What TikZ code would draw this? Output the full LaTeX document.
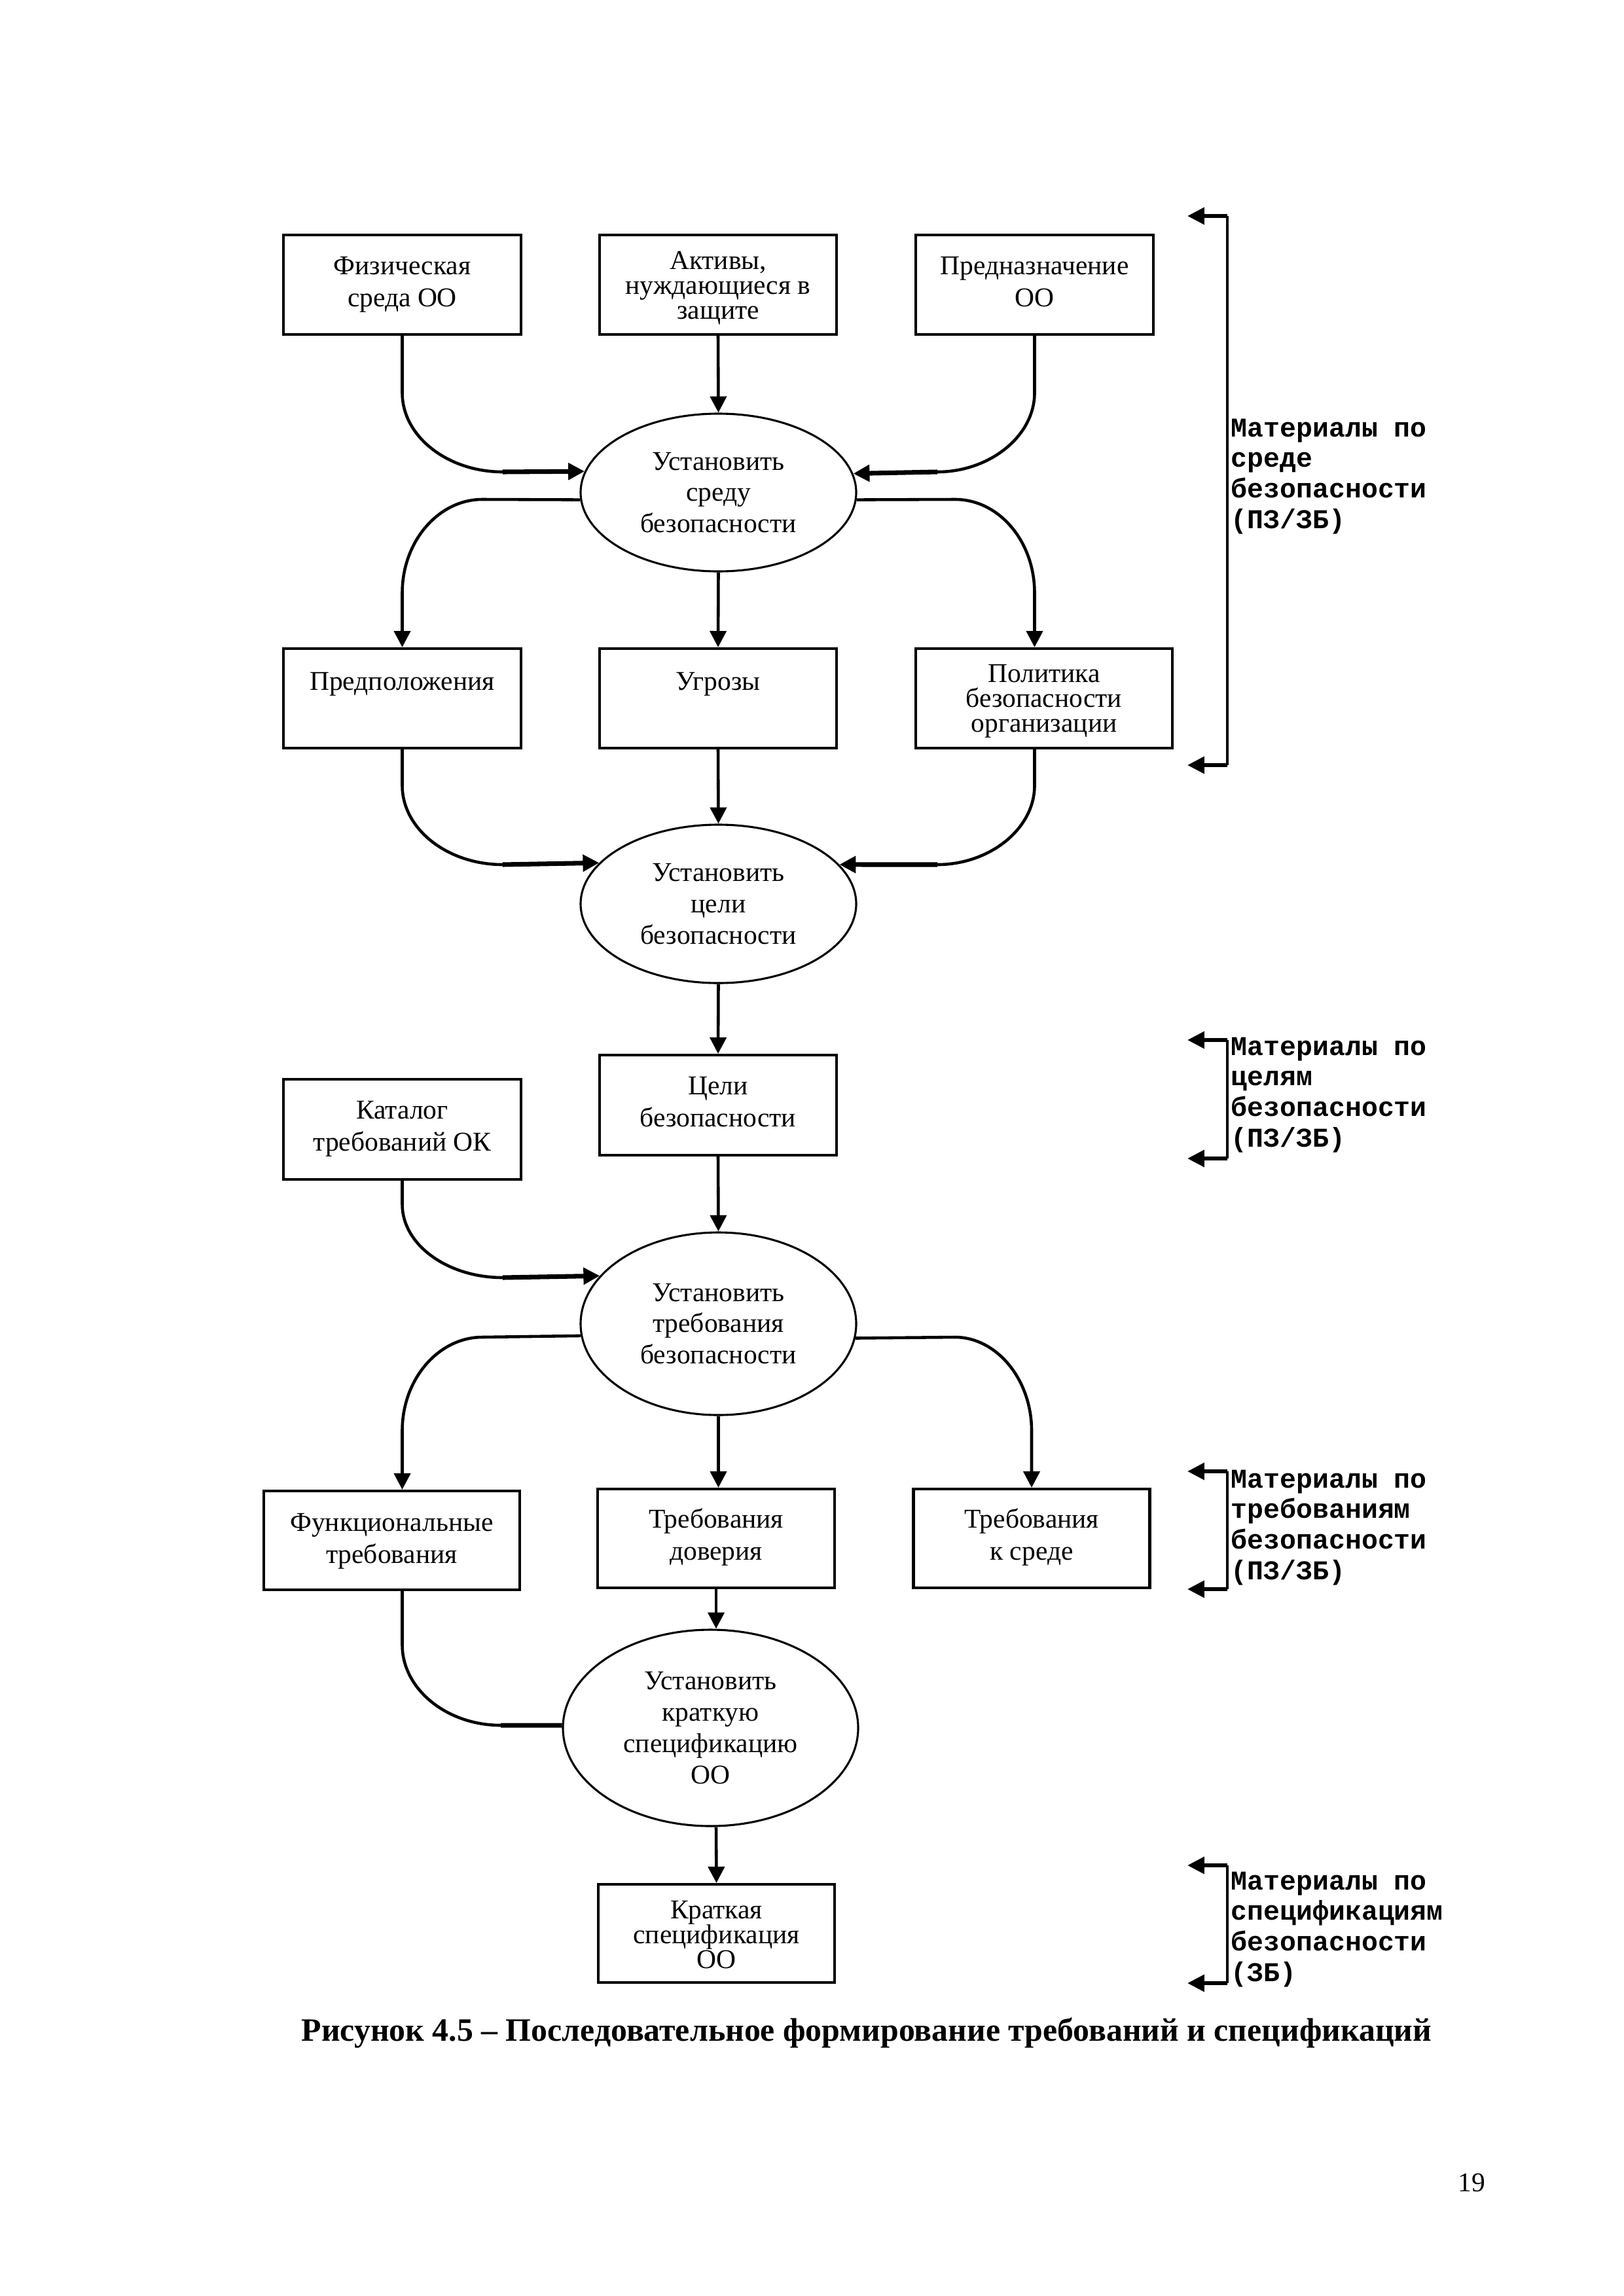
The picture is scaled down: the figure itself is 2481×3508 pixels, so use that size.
\documentclass[tikz,border=0pt]{standalone}
\usepackage{fontspec}
\setmainfont{Liberation Serif}
\newfontfamily\monof{Liberation Mono}
\usetikzlibrary{arrows.meta,shapes.geometric}
\newcommand\pxl{0.0846667mm}
\newcommand\firstl{\rule{0pt}{8pt}}
\begin{document}
\begin{tikzpicture}[x=0.0846667mm,y=-0.0846667mm,
  box/.style={draw, line width=1pt, inner sep=0pt, rectangle},
  bt/.style={anchor=north, inner sep=0pt, align=center, font={\fontsize{10}{11.8}\selectfont}},
  btt/.style={anchor=north, inner sep=0pt, align=center, font={\fontsize{10}{9.2}\selectfont\lineskiplimit=-20pt}},
  ell/.style={draw, ellipse, line width=0.75pt, inner sep=0pt, align=center, font={\fontsize{10}{11.5}\selectfont}},
  con/.style={line width=1.1pt},
  arr/.style={line width=1.1pt, -{Triangle[length=6pt,width=6pt]}},
  thk/.style={line width=1.7pt},
  thka/.style={line width=1.7pt, -{Triangle[length=6pt,width=6pt]}},
  brv/.style={line width=1pt},
  brh/.style={line width=1.45pt, -{Triangle[length=6.2pt,width=6pt]}},
  mat/.style={anchor=north west, inner sep=0pt, align=left, font={\monof\bfseries\fontsize{10}{11.3}\selectfont}}
]
\fill[white] (0,0) rectangle (2481,3508);
\useasboundingbox (0,0) rectangle (2481,3508);

% ---------- row 1 ----------
\node[box, minimum width=363*\pxl, minimum height=152*\pxl] (b1) at (614.5,435) {};
\node[box, minimum width=362*\pxl, minimum height=152*\pxl] (b2) at (1097,435) {};
\node[box, minimum width=363*\pxl, minimum height=152*\pxl] (b3) at (1580.5,435) {};
\node[bt] (t1) at (614.5,385) {\firstl Физическая\\среда ОО};
\node[btt] (t2) at (1097,377) {\firstl Активы,\\нуждающиеся в\\защите};
\node[bt] (t3) at (1580.5,385) {\firstl Предназначение\\ОО};

\node[ell, minimum width=421*\pxl, minimum height=241*\pxl] (e1) at (1097.5,752.5) {Установить\\среду\\безопасности};

% ---------- row 2 ----------
\node[box, minimum width=363*\pxl, minimum height=152*\pxl] (b4) at (614.5,1067) {};
\node[box, minimum width=362*\pxl, minimum height=152*\pxl] (b5) at (1097,1067) {};
\node[box, minimum width=392*\pxl, minimum height=152*\pxl] (b6) at (1595,1067) {};
\node[bt] (t4) at (614.5,1020) {\firstl Предположения};
\node[bt] (t5) at (1097,1020) {\firstl Угрозы};
\node[btt] (t6) at (1595,1008) {\firstl Политика\\безопасности\\организации};

\node[ell, minimum width=421*\pxl, minimum height=242*\pxl] (e2) at (1097.5,1381) {Установить\\цели\\безопасности};

% ---------- row 3 ----------
\node[box, minimum width=362*\pxl, minimum height=153*\pxl] (b7) at (1097,1688.5) {};
\node[box, minimum width=363*\pxl, minimum height=153*\pxl] (b8) at (614.5,1725.5) {};
\node[bt] (t7) at (1097,1638) {\firstl Цели\\безопасности};
\node[bt] (t8) at (614.5,1675) {\firstl Каталог\\требований ОК};

\node[ell, minimum width=421*\pxl, minimum height=279*\pxl] (e3) at (1097.5,2022.5) {Установить\\требования\\безопасности};

% ---------- row 4 ----------
\node[box, minimum width=391*\pxl, minimum height=151*\pxl] (b10) at (598.5,2353.5) {};
\node[box, minimum width=362*\pxl, minimum height=151*\pxl] (b11) at (1094,2350.5) {};
\node[box, minimum width=361*\pxl, minimum height=151*\pxl] (b12) at (1576,2350.5) {};
\node[bt] (t10) at (598.5,2305) {\firstl Функциональные\\требования};
\node[bt] (t11) at (1094,2300) {\firstl Требования\\доверия};
\node[bt] (t12) at (1576,2300) {\firstl Требования\\к среде};

\node[ell, minimum width=451*\pxl, minimum height=300*\pxl] (e4) at (1085.5,2640) {Установить\\краткую\\спецификацию\\ОО};

\node[box, minimum width=361*\pxl, minimum height=150*\pxl] (b13) at (1094.5,2954) {};
\node[btt] (t13) at (1094.5,2897) {\firstl Краткая\\спецификация\\ОО};

% ---------- connectors ----------
\coordinate (c1) at (768,721);
\coordinate (c2) at (1432,721);
\draw[con] (b1.south) -- (614.5,600) .. controls (614.5,667) and (684,721) .. (c1);
\draw[thka] (c1) -- (e1.171.3);
\draw[con] (b3.south) -- (1580.5,600) .. controls (1580.5,667) and (1511,721) .. (c2);
\draw[thka] (c2) -- (e1.8.7);
\draw[arr] (b2.south) -- (e1.north);

\draw[arr] (e1.183) -- (737,763) .. controls (670,763) and (614.5,827) .. (614.5,906) -- (b4.north);
\draw[arr] (e1.357) -- (1459,763) .. controls (1526,763) and (1580.5,827) .. (1580.5,906) -- (b6.north -| b3.south);
\draw[arr] (e1.south) -- (b5.north);

\coordinate (c3) at (768,1321);
\coordinate (c4) at (1432,1321);
\draw[con] (b4.south) -- (614.5,1200) .. controls (614.5,1267) and (684,1321) .. (c3);
\draw[thka] (c3) -- (e2.161.8);
\draw[con] (b6.south -| b3.south) -- (1580.5,1200) .. controls (1580.5,1267) and (1511,1321) .. (c4);
\draw[thka] (c4) -- (e2.18.2);
\draw[arr] (b5.south) -- (e2.north);

\draw[arr] (e2.south) -- (b7.north);
\draw[arr] (b7.south) -- (e3.north);

\coordinate (c5) at (768,1952);
\draw[con] (b8.south) -- (614.5,1840) .. controls (614.5,1902) and (684,1952) .. (c5);
\draw[thka] (c5) -- (e3.158.7);

\draw[arr] (e3.185.6) -- (737,2043) .. controls (670,2043) and (614.5,2107) .. (614.5,2186) -- (b10.north -| b1.south);
\draw[arr] (e3.354.4) -- (1459,2043) .. controls (1522,2043) and (1576,2107) .. (1576,2186) -- (b12.north);
\draw[arr] (e3.south) -- (e3.south |- b11.north);

\coordinate (c6) at (765,2636);
\draw[con] (b10.south -| b1.south) -- (614.5,2513) .. controls (614.5,2581) and (683,2636) .. (c6);
\draw[thk] (c6) -- (e4.179);
\draw[arr] (b11.south) -- (b11.south |- e4.north);
\draw[arr] (e4.south -| b11.south) -- (b13.north);

% ---------- brackets ----------
\coordinate (k1a) at (1875,330);  \coordinate (k1b) at (1875,1169);
\coordinate (k1c) at (1814,330);  \coordinate (k1d) at (1814,1169);
\draw[brv] (k1a) -- (k1b);
\draw[brh] (k1a) -- (k1c);
\draw[brh] (k1b) -- (k1d);
\node[mat] (m1) at (1880,633) {\firstl Материалы по\\среде\\безопасности\\(ПЗ/ЗБ)};

\coordinate (k2a) at (1875,1589); \coordinate (k2b) at (1875,1770);
\coordinate (k2c) at (1814,1589); \coordinate (k2d) at (1814,1770);
\draw[brv] (k2a) -- (k2b);
\draw[brh] (k2a) -- (k2c);
\draw[brh] (k2b) -- (k2d);
\node[mat] (m2) at (1880,1578) {\firstl Материалы по\\целям\\безопасности\\(ПЗ/ЗБ)};

\coordinate (k3a) at (1875,2248); \coordinate (k3b) at (1875,2428);
\coordinate (k3c) at (1814,2248); \coordinate (k3d) at (1814,2428);
\draw[brv] (k3a) -- (k3b);
\draw[brh] (k3a) -- (k3c);
\draw[brh] (k3b) -- (k3d);
\node[mat] (m3) at (1880,2239) {\firstl Материалы по\\требованиям\\безопасности\\(ПЗ/ЗБ)};

\coordinate (k4a) at (1875,2850); \coordinate (k4b) at (1875,3030);
\coordinate (k4c) at (1814,2850); \coordinate (k4d) at (1814,3030);
\draw[brv] (k4a) -- (k4b);
\draw[brh] (k4a) -- (k4c);
\draw[brh] (k4b) -- (k4d);
\node[mat] (m4) at (1880,2853) {\firstl Материалы по\\спецификациям\\безопасности\\(ЗБ)};

% ---------- caption and page number ----------
\node[anchor=base, inner sep=0pt, font={\bfseries\fontsize{12}{14}\selectfont}] (cap) at (1324,3118) {Рисунок 4.5 – Последовательное формирование требований и спецификаций};
\node[anchor=base, inner sep=0pt, font={\fontsize{10}{12}\selectfont}] (pg) at (2248,3348) {19};
\end{tikzpicture}
\end{document}
